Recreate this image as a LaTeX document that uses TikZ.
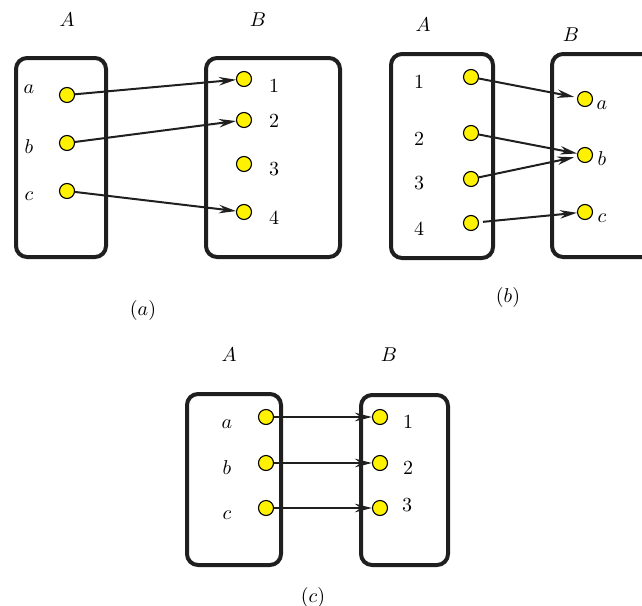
\documentclass[tikz,border=0pt]{standalone}
\usetikzlibrary{arrows.meta}
\begin{document}
\begin{tikzpicture}[x=1pt,y=-1pt,
  setbox/.style={draw=black!88, line width=4pt, rounded corners=11pt},
  elem/.style={circle, draw=black, line width=1.1pt, fill=yellow, inner sep=0pt, minimum size=15pt},
  lbl/.style={inner sep=0pt, text=black, scale=2},
  arr/.style={draw=black!88, line width=2pt, -{Stealth[length=17pt, width=8.5pt, inset=5.5pt]}}
]
\useasboundingbox (0,0) rectangle (642,605);
\clip (0,0) rectangle (642,605);

% ---------- (a) ----------
\draw[setbox] (16,58) rectangle (106,257);
\draw[setbox] (206,58) rectangle (340,257);
\node[lbl] at (67,20) {$A$};
\node[lbl] at (258,20) {$B$};
\node[lbl] at (29,89) {$a$};
\node[lbl] at (29,147) {$b$};
\node[lbl] at (29,196) {$c$};
\node[elem] (pa) at (67,95) {};
\node[elem] (pb) at (67,143) {};
\node[elem] (pc) at (67,191) {};
\node[elem] (q1) at (244,79) {};
\node[elem] (q2) at (244,120) {};
\node[elem] (q3) at (244,164) {};
\node[elem] (q4) at (244,212) {};
\node[lbl] at (274,86) {$1$};
\node[lbl] at (274,121) {$2$};
\node[lbl] at (274,169) {$3$};
\node[lbl] at (274,218) {$4$};
\draw[arr] (pa) -- (q1);
\draw[arr] (pb) -- (q2);
\draw[arr] (pc) -- (q4);
\node[lbl] at (143,310) {$(a)$};

% ---------- (b) ----------
\draw[setbox] (391,54) rectangle (493,258);
\draw[setbox] (552,54) rectangle (680,257);
\node[lbl] at (423,25) {$A$};
\node[lbl] at (571,35) {$B$};
\node[lbl] at (419,82) {$1$};
\node[lbl] at (419,139) {$2$};
\node[lbl] at (419,183) {$3$};
\node[lbl] at (419,229) {$4$};
\node[elem] (r1) at (471,77) {};
\node[elem] (r2) at (471,133) {};
\node[elem] (r3) at (471,179) {};
\node[elem] (r4) at (471,223) {};
\node[elem] (sa) at (585,99) {};
\node[elem] (sb) at (585,155) {};
\node[elem] (sc) at (585,212) {};
\node[lbl] at (602,105) {$a$};
\node[lbl] at (602,159) {$b$};
\node[lbl] at (602,218) {$c$};
\draw[arr, shorten >=3pt] (r1) -- (sa);
\draw[arr] (r2) -- (sb);
\draw[arr, shorten >=3pt] (r3) -- (sb);
\draw[arr, shorten <=4pt] (r4) -- (sc);
\node[lbl] at (508,297) {$(b)$};

% ---------- (c) ----------
\draw[setbox] (187,394) rectangle (281,565);
\draw[setbox] (361,395) rectangle (448,565);
\node[lbl] at (229,355) {$A$};
\node[lbl] at (389,355) {$B$};
\node[lbl] at (227,424) {$a$};
\node[lbl] at (227,468) {$b$};
\node[lbl] at (227,515) {$c$};
\node[elem] (u1) at (266,417) {};
\node[elem] (u2) at (266,463) {};
\node[elem] (u3) at (266,508) {};
\node[elem] (v1) at (380,417) {};
\node[elem] (v2) at (380,463) {};
\node[elem] (v3) at (380,508) {};
\node[lbl] at (408,422) {$1$};
\node[lbl] at (408,468) {$2$};
\node[lbl] at (407,505) {$3$};
\draw[arr] (u1) -- (v1);
\draw[arr] (u2) -- (v2);
\draw[arr] (u3) -- (v3);
\node[lbl] at (313,597) {$(c)$};
\end{tikzpicture}
\end{document}
